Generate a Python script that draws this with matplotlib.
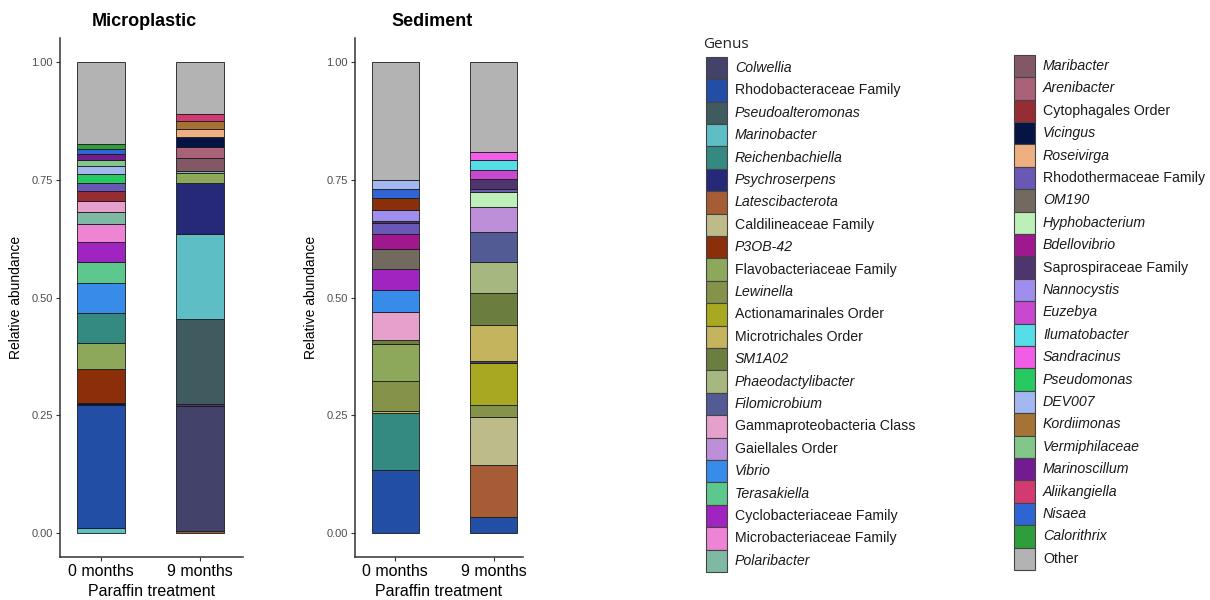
import matplotlib
matplotlib.use("Agg")
import matplotlib.pyplot as plt
from matplotlib.patches import Rectangle

plt.rcParams['font.family'] = ['Liberation Sans', 'DejaVu Sans']

# Genus order and colours used for the legend
genera = [
    "Colwellia", "Rhodobacteraceae Family", "Pseudoalteromonas", "Marinobacter",
    "Reichenbachiella", "Psychroserpens", "Latescibacterota", "Caldilineaceae Family",
    "P3OB-42", "Flavobacteriaceae Family", "Lewinella", "Actionamarinales Order",
    "Microtrichales Order", "SM1A02", "Phaeodactylibacter", "Filomicrobium",
    "Gammaproteobacteria Class", "Gaiellales Order", "Vibrio", "Terasakiella",
    "Cyclobacteriaceae Family", "Microbacteriaceae Family", "Polaribacter",
    "Maribacter", "Arenibacter", "Cytophagales Order", "Vicingus", "Roseivirga",
    "Rhodothermaceae Family", "OM190", "Hyphobacterium", "Bdellovibrio",
    "Saprospiraceae Family", "Nannocystis", "Euzebya", "Ilumatobacter",
    "Sandracinus", "Pseudomonas", "DEV007", "Kordiimonas", "Vermiphilaceae",
    "Marinoscillum", "Aliikangiella", "Nisaea", "Calorithrix", "Other",
]
genus_colors = [
    "#43426A", "#224EA6", "#3F5B60", "#5DBEC6", "#348A80", "#262878", "#A65D36",
    "#BEBB8A", "#8B2E0A", "#8DA85A", "#84924A", "#A8A921", "#C4B45E", "#6C7D40",
    "#A6B880", "#535B95", "#E5A0CB", "#BE8FD9", "#378BE9", "#5DC88E", "#A024BF",
    "#EE84D4", "#7FB9A3", "#835865", "#A96278", "#962D33", "#061445", "#EEB081",
    "#6958B5", "#726A5E", "#BDEFB8", "#A0188E", "#4E356E", "#A08EEE", "#C849CF",
    "#55DDE8", "#F15DE6", "#27CA61", "#A3B8F0", "#A67336", "#83C689", "#731B91",
    "#D33A72", "#2F64D3", "#2E9E3D", "#B3B3B3",
]
color_of = dict(zip(genera, genus_colors))

timepoints = ["0 months", "9 months"]

# Relative abundances, stacked bottom to top
mp_0m_genus = ["Marinobacter", "Rhodobacteraceae Family", "Vicingus", "P3OB-42",
               "Flavobacteriaceae Family", "Reichenbachiella", "Vibrio", "Terasakiella",
               "Cyclobacteriaceae Family", "Microbacteriaceae Family", "Polaribacter",
               "Gammaproteobacteria Class", "Cytophagales Order", "Rhodothermaceae Family",
               "Pseudomonas", "DEV007", "Vermiphilaceae", "Marinoscillum", "Nisaea",
               "Calorithrix", "Other"]
mp_0m_vals = [0.012, 0.261, 0.004, 0.072, 0.054, 0.065, 0.062, 0.046, 0.041, 0.039,
              0.026, 0.023, 0.021, 0.017, 0.018, 0.017, 0.013, 0.013, 0.011, 0.011, 0.174]

mp_9m_genus = ["Latescibacterota", "Colwellia", "Saprospiraceae Family", "Pseudoalteromonas",
               "Marinobacter", "Psychroserpens", "Flavobacteriaceae Family", "Polaribacter",
               "Maribacter", "Arenibacter", "Vicingus", "Roseivirga", "Kordiimonas",
               "Aliikangiella", "Other"]
mp_9m_vals = [0.005, 0.266, 0.004, 0.179, 0.181, 0.108, 0.020, 0.005, 0.028, 0.023,
              0.021, 0.018, 0.017, 0.014, 0.111]

sed_0m_genus = ["Rhodobacteraceae Family", "Reichenbachiella", "Microtrichales Order",
                "Lewinella", "Flavobacteriaceae Family", "SM1A02", "Gammaproteobacteria Class",
                "Vibrio", "Cyclobacteriaceae Family", "OM190", "Bdellovibrio",
                "Rhodothermaceae Family", "Saprospiraceae Family", "Nannocystis", "P3OB-42",
                "Nisaea", "DEV007", "Other"]
sed_0m_vals = [0.135, 0.120, 0.004, 0.065, 0.078, 0.008, 0.059, 0.047, 0.044, 0.042,
               0.032, 0.023, 0.005, 0.024, 0.024, 0.021, 0.019, 0.250]

sed_9m_genus = ["Rhodobacteraceae Family", "Latescibacterota", "Caldilineaceae Family",
                "Lewinella", "Actionamarinales Order", "Colwellia", "Microtrichales Order",
                "SM1A02", "Phaeodactylibacter", "Filomicrobium", "Gaiellales Order",
                "Hyphobacterium", "Rhodothermaceae Family", "Saprospiraceae Family",
                "Euzebya", "Ilumatobacter", "Sandracinus", "Other"]
sed_9m_vals = [0.034, 0.112, 0.100, 0.027, 0.089, 0.004, 0.076, 0.067, 0.067, 0.062,
               0.054, 0.032, 0.005, 0.022, 0.020, 0.020, 0.017, 0.192]

W, H = 1210, 600
fig = plt.figure(figsize=(W / 100, H / 100), dpi=100)


def stacked_bar(ax, xpos, names, vals):
    bottom = 0.0
    for name, v in zip(names, vals):
        ax.bar(xpos, v, bottom=bottom, width=0.48, color=color_of[name],
               edgecolor="#1a1a1a", linewidth=0.6)
        bottom += v


def style_panel(ax, title):
    ax.set_ylim(-0.05, 1.05)
    ax.set_yticks([0, 0.25, 0.5, 0.75, 1.0])
    ax.set_yticklabels(["0.00", "0.25", "0.50", "0.75", "1.00"], fontsize=8, color="#4d4d4d")
    ax.set_xticks([1, 2])
    ax.set_xticklabels(timepoints, fontsize=11.5, color="black")
    ax.set_xlabel("Paraffin treatment", fontsize=11.5, labelpad=4)
    ax.set_ylabel("Relative abundance", fontsize=10, labelpad=6)
    # title sits a little left of the panel centre, 16 px above the axis top
    ax.text(0.459, 1 + 16 / 519, title, transform=ax.transAxes, fontsize=13,
            fontweight="bold", ha="center", va="center")
    for s in ["top", "right"]:
        ax.spines[s].set_visible(False)
    for s in ["left", "bottom"]:
        ax.spines[s].set_color("#333333")
        ax.spines[s].set_linewidth(1.1)
    ax.tick_params(axis="both", length=3, width=0.8, color="#333333", pad=2)


ax1 = fig.add_axes([60 / W, 1 - 557 / H, 183 / W, 519 / H])
stacked_bar(ax1, 1, mp_0m_genus, mp_0m_vals)
stacked_bar(ax1, 2, mp_9m_genus, mp_9m_vals)
ax1.set_xlim(0.59, 2.43)
style_panel(ax1, "Microplastic")

ax2 = fig.add_axes([355 / W, 1 - 557 / H, 168 / W, 519 / H])
stacked_bar(ax2, 1, sed_0m_genus, sed_0m_vals)
stacked_bar(ax2, 2, sed_9m_genus, sed_9m_vals)
ax2.set_xlim(0.59, 2.30)
style_panel(ax2, "Sediment")

# Legend drawn in figure pixel space, two columns
lg = fig.add_axes([0, 0, 1, 1])
lg.set_xlim(0, W)
lg.set_ylim(H, 0)
lg.axis("off")
lg.text(703, 44, "Genus", fontsize=11, color="#222222", va="center", ha="left",
        family=["Open Sans", "DejaVu Sans"])
row_h = 22.4
per_col = 23
for i, name in enumerate(genera):
    col, row = divmod(i, per_col)
    kx = 706 if col == 0 else 1014
    ky = (68 if col == 0 else 66) + row * row_h
    lg.add_patch(Rectangle((kx, ky - row_h / 2), 21, row_h, facecolor=color_of[name],
                           edgecolor="#444444", linewidth=0.8))
    upright = name == "Other" or name.split()[-1] in ("Family", "Order", "Class")
    lg.text(kx + 29, ky, name, fontsize=10.2, va="center", ha="left", color="#1a1a1a",
            style="normal" if upright else "italic")

fig.savefig("out.png", dpi=100)
